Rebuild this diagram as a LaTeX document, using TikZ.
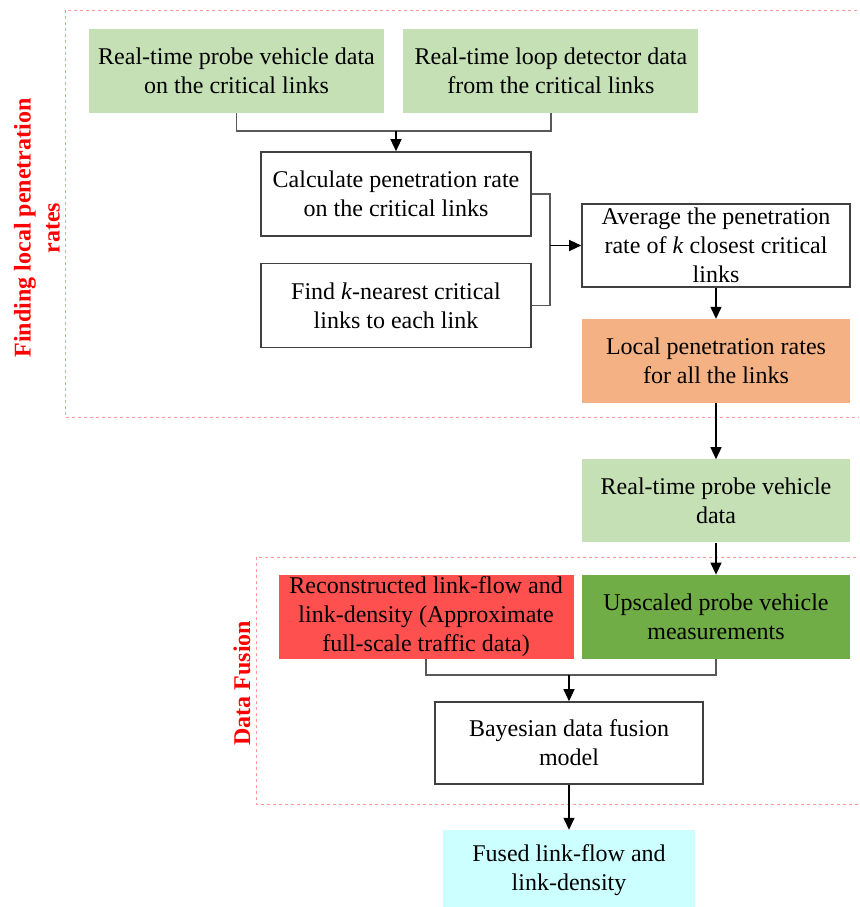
\documentclass[tikz,border=0pt]{standalone}
\usepackage{fontspec}
\setmainfont{Liberation Serif}
\usetikzlibrary{arrows.meta,positioning,calc}
\definecolor{ink}{HTML}{000000}
\definecolor{edge}{HTML}{404040}
\definecolor{wire}{HTML}{595959}
\definecolor{sage}{HTML}{C5E0B4}
\definecolor{peach}{HTML}{F4B183}
\definecolor{coral}{HTML}{FF5050}
\definecolor{leaf}{HTML}{70AD47}
\definecolor{aqua}{HTML}{CCFFFF}
\definecolor{pinkline}{HTML}{FF9999}
\tikzset{
  >=Triangle,
  every node/.style={font=\fontsize{24}{29}\selectfont,text=ink},
  box/.style={align=center,inner sep=2pt,minimum height=84pt},
  input/.style={box,fill=sage,minimum width=295pt},
  procbox/.style={box,draw=edge,line width=1.6pt,fill=white,minimum width=270pt},
  result/.style={box,fill=peach,minimum width=268pt},
  recon/.style={box,fill=coral,minimum width=295pt},
  upscale/.style={box,fill=leaf,minimum width=268pt},
  output/.style={box,fill=aqua,minimum width=252pt,minimum height=80pt},
  conn/.style={draw=wire,line width=1.6pt},
  arrow/.style={draw=ink,line width=1.3pt,-{Triangle[length=12pt,width=11pt]}},
  region/.style={draw=pinkline,dashed,line width=0.6pt},
  tag/.style={font=\fontsize{24}{29}\selectfont\bfseries,text=red,rotate=90,align=center}
}
\begin{document}
\begin{tikzpicture}[x=1pt,y=1pt]
  \useasboundingbox (0,0) rectangle (859,-907);
  \clip (0,0) rectangle (859,-907);

  % dashed stage frames
  \draw[region] (65,-10) rectangle (870,-417);
  \draw[region] (256,-557) rectangle (870,-804);
  \node[tag] (findlabel) at (37,-228) {Finding local penetration\\rates};
  \node[tag] (fusionlabel) at (242,-683) {Data Fusion};

  % local penetration rates
  \node[input] (probe) at (236.5,-71) {Real-time probe vehicle data\\on the critical links};
  \node[input,right=19pt of probe] (loop) {Real-time loop detector data\\from the critical links};
  \node[procbox] (calc) at (396,-194) {Calculate penetration rate\\on the critical links};
  \node[procbox,below=26pt of calc] (find) {Find \textit{k}-nearest critical\\links to each link};
  \node[procbox,minimum width=268pt,minimum height=83pt] (avg) at (716,-245.5) {Average the penetration\\rate of \textit{k} closest critical\\links};
  \node[result,below=31pt of avg] (local) {Local penetration rates\\for all the links};

  \coordinate (merge) at ($(calc.north)+(0,20)$);
  \draw[conn] (probe.south) |- (merge) -| (loop.south);
  \draw[arrow] (merge) -- (calc.north);
  \coordinate (split) at ($(calc.east)+(18,0)$);
  \draw[conn] (calc.east) -- (split) |- (find.east);
  \draw[arrow] (split |- avg.west) -- (avg.west);
  \draw[arrow] (avg) -- (local);

  % data fusion
  \node[input,minimum width=268pt,minimum height=83pt,below=56pt of local] (probe2) {Real-time probe vehicle\\data};
  \node[upscale,below=32pt of probe2] (upscaled) {Upscaled probe vehicle\\measurements};
  \node[recon,left=8pt of upscaled] (rebuilt) {Reconstructed link-flow and\\link-density (Approximate\\full-scale traffic data)};
  \node[procbox,minimum width=268pt,minimum height=82pt] (bayes) at (569,-743) {Bayesian data fusion\\model};
  \node[output,below=45pt of bayes] (fused) {Fused link-flow and\\link-density};

  \draw[arrow] (local) -- (probe2);
  \draw[arrow] (probe2) -- (upscaled);
  \coordinate (join) at ($(bayes.north)+(0,26)$);
  \draw[conn] (rebuilt.south) |- (join) -| (upscaled.south);
  \draw[arrow] (join) -- (bayes.north);
  \draw[arrow] (bayes) -- (fused);
\end{tikzpicture}
\end{document}
